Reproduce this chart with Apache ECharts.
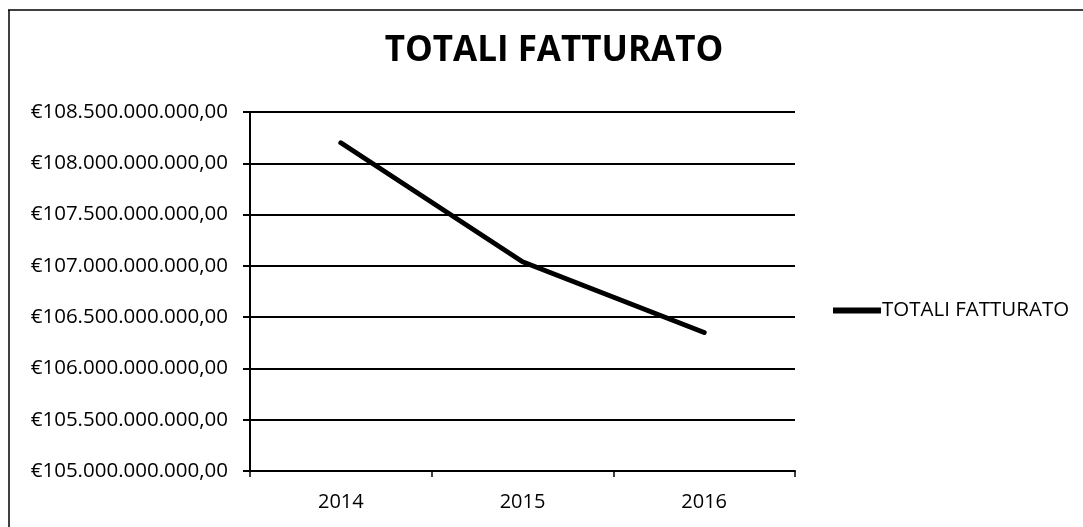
<!DOCTYPE html>
<html>
<head>
<meta charset="utf-8">
<script src="https://cdn.jsdelivr.net/npm/echarts@6/dist/echarts.min.js"></script>
<style>
  html, body { margin: 0; padding: 0; background: #fff; }
  #chart { width: 1083px; height: 527px; }
</style>
</head>
<body>
<div id="chart"></div>
<script>
// dati
const years = ['2014', '2015', '2016']
const totaliFatturato = [108200000000, 107040000000, 106350000000]
const yMin = 105000000000
const yMax = 108500000000
const yStep = 500000000

function euro (v) {
  const parts = Math.round(v).toString().replace(/\B(?=(\d{3})+(?!\d))/g, '.')
  return '€' + parts + ',00'
}

const chart = echarts.init(document.getElementById('chart'))
const font = '"Open Sans", sans-serif'

chart.setOption({
  animation: false,
  backgroundColor: '#fff',
  textStyle: { fontFamily: font, color: '#000' },
  title: {
    text: 'TOTALI FATTURATO',
    left: 549,
    top: 29,
    textAlign: 'center',
    textStyle: { fontFamily: font, fontSize: 35, fontWeight: 'bold', color: '#000' }
  },
  legend: {
    left: 828,
    top: 295,
    icon: 'rect',
    itemWidth: 48,
    itemHeight: 6,
    textStyle: { fontFamily: font, fontSize: 20.5, color: '#000', padding: [0, 0, 0, -4] },
    data: ['TOTALI FATTURATO']
  },
  grid: { left: 250, right: 288, top: 112, bottom: 56 },
  xAxis: {
    type: 'category',
    data: years,
    boundaryGap: true,
    axisLine: { lineStyle: { color: '#000', width: 2 } },
    axisTick: { show: true, length: 6, lineStyle: { color: '#000', width: 1.5 } },
    axisLabel: { fontFamily: font, fontSize: 20, color: '#000', margin: 21 }
  },
  yAxis: {
    type: 'value',
    min: yMin,
    max: yMax,
    interval: yStep,
    axisLine: { show: true, lineStyle: { color: '#000', width: 2 } },
    axisTick: { show: true, length: 7, lineStyle: { color: '#000', width: 2 } },
    splitLine: { lineStyle: { color: '#000', width: 2 } },
    axisLabel: { fontFamily: font, fontSize: 20.5, color: '#000', margin: 22, formatter: euro }
  },
  series: [{
    name: 'TOTALI FATTURATO',
    type: 'line',
    data: totaliFatturato,
    showSymbol: false,
    symbol: 'none',
    itemStyle: { color: '#000' },
    lineStyle: { color: '#000', width: 5, cap: 'round', join: 'round' }
  }],
  graphic: [
    { type: 'line', shape: { x1: 8, y1: 10, x2: 1083, y2: 10 }, style: { stroke: '#000', lineWidth: 1.5 } },
    { type: 'line', shape: { x1: 9, y1: 10, x2: 9, y2: 527 }, style: { stroke: '#000', lineWidth: 1.5 } }
  ]
})
</script>
</body>
</html>
